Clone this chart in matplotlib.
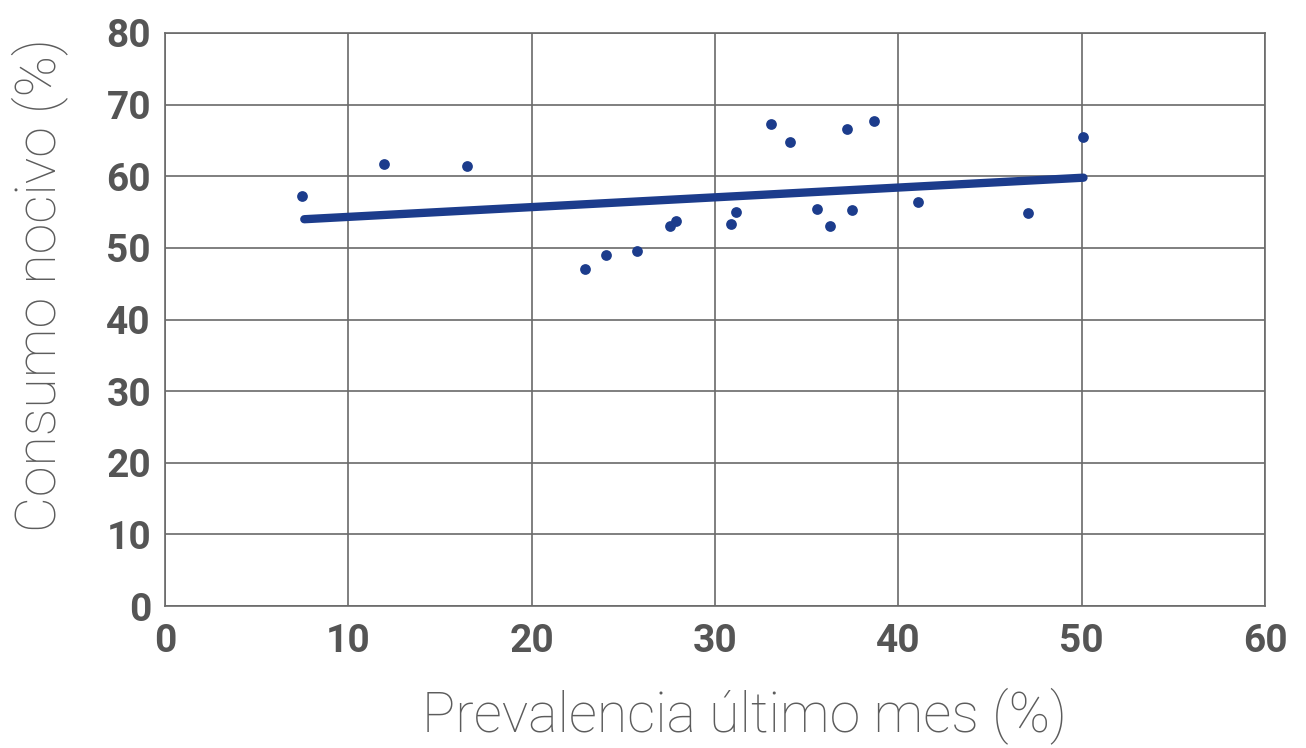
import matplotlib
matplotlib.use("Agg")
import matplotlib.pyplot as plt

prevalencia = [7.5, 11.95, 16.5, 22.9, 24.05, 25.75, 27.55, 27.9, 30.9, 31.15,
               33.05, 34.1, 35.55, 36.3, 37.2, 37.45, 38.65, 41.05, 47.05, 50.1]
consumo = [57.2, 61.7, 61.4, 47.1, 49.0, 49.6, 53.1, 53.8, 53.3, 55.0,
           67.3, 64.8, 55.4, 53.1, 66.6, 55.3, 67.7, 56.4, 54.9, 65.5]
trend_x = [7.6, 50.1]
trend_y = [54.0, 59.8]

xticks = [0, 10, 20, 30, 40, 50, 60]
yticks = [0, 10, 20, 30, 40, 50, 60, 70, 80]

fig = plt.figure(figsize=(13.06, 7.48), dpi=100)
ax = fig.add_axes([0.1263, 0.1898, 0.8423, 0.7661])
blue = "#1c3c8c"
grid_c = "#6a6a6a"

ax.plot(trend_x, trend_y, color=blue, lw=6, solid_capstyle='round', zorder=3)
ax.scatter(prevalencia, consumo, s=60, color=blue, zorder=4, linewidths=0)

ax.set_xlim(0, 60)
ax.set_ylim(0, 80)
ax.set_xticks(xticks)
ax.set_yticks(yticks)
ax.grid(True, color=grid_c, lw=1.2)
ax.set_axisbelow(True)
for s in ax.spines.values():
    s.set_color(grid_c)
    s.set_linewidth(1.2)
ax.tick_params(axis='y', length=0, pad=10, colors="#555555")
ax.tick_params(axis='x', length=0, pad=12, colors="#555555")
for lab in ax.get_xticklabels() + ax.get_yticklabels():
    lab.set_fontfamily("Roboto")
    lab.set_fontweight("bold")
    lab.set_fontsize(28)
    lab.set_color("#555555")
ax.set_xlabel("Prevalencia último mes (%)", fontsize=40, family="Roboto",
              fontweight="light", color="#5c5c5c")
ax.set_ylabel("Consumo nocivo (%)", fontsize=40, family="Roboto",
              fontweight="light", color="#5c5c5c")
ax.xaxis.set_label_coords(0.527, -0.142)
ax.yaxis.set_label_coords(-0.088, 0.56)
fig.savefig("out.png", dpi=100)
